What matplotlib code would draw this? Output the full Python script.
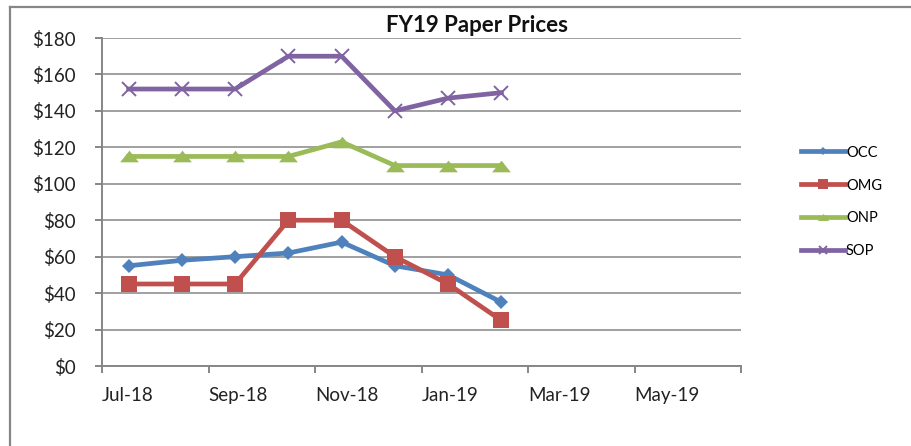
import numpy as np
import matplotlib
matplotlib.use('Agg')
import matplotlib.pyplot as plt
from matplotlib.lines import Line2D

plt.rcParams['font.family'] = ['Lato', 'DejaVu Sans']

# monthly axis Jul-18 .. Jun-19, each point sits in the middle of its month slot
axis_months = ['Jul-18', 'Aug-18', 'Sep-18', 'Oct-18', 'Nov-18', 'Dec-18',
               'Jan-19', 'Feb-19', 'Mar-19', 'Apr-19', 'May-19', 'Jun-19']
months = ['Jul-18', 'Aug-18', 'Sep-18', 'Oct-18', 'Nov-18', 'Dec-18', 'Jan-19', 'Feb-19']
occ = [55, 58, 60, 62, 68, 55, 50, 35]
omg = [45, 45, 45, 80, 80, 60, 45, 25]
onp = [115, 115, 115, 115, 123, 110, 110, 110]
sop = [152, 152, 152, 170, 170, 140, 147, 150]

names = ['OCC', 'OMG', 'ONP', 'SOP']
colors = ['#4F81BD', '#C0504D', '#9BBB59', '#8064A2']
tri = [(0, 0.62), (1, -0.62), (-1, -0.62)]
markers = ['D', 's', tri, 'x']
msizes = [7.5, 11, 13.5, 10]
grey = '#868686'

W, H = 911, 446
fig = plt.figure(figsize=(W / 100, H / 100), dpi=100)

# outer chart frame (cropped)
fig.add_artist(Line2D([10 / W, 10 / W], [0, 1 - 7 / H], color=grey, lw=1.6))
fig.add_artist(Line2D([10 / W, 1], [1 - 7 / H, 1 - 7 / H], color=grey, lw=1.6))

ax = fig.add_axes([102 / W, 80 / H, (741 - 102) / W, (366 - 38) / H])

x = np.array([axis_months.index(m) for m in months]) + 0.5
handles = []
for vals, name, c, m, ms in zip([occ, omg, onp, sop], names, colors, markers, msizes):
    mew = 1.4 if m == 'x' else 0
    ax.plot(x, vals, color=c, lw=3.4, marker=m, ms=ms, mew=mew, mec=c, zorder=3)
    handles.append(Line2D([], [], color=c, lw=3.4, marker=m, ms=ms * 0.6,
                          mew=mew, mec=c, label=name))

ax.set_ylim(0, 180)
ax.set_yticks(np.arange(0, 181, 20))
ax.set_yticklabels(['$%d' % v for v in range(0, 181, 20)])
ax.yaxis.grid(True, color=grey, lw=1.1)
ax.set_axisbelow(True)

ax.set_xlim(0, len(axis_months))
xt = np.arange(0, len(axis_months) + 1, 2)
ax.set_xticks(xt)
ax.set_xticklabels(axis_months[::2] + [''], ha='left')

for s in ['top', 'right']:
    ax.spines[s].set_visible(False)
for s in ['left', 'bottom']:
    ax.spines[s].set_color(grey)
    ax.spines[s].set_linewidth(1.4)
ax.tick_params(axis='both', colors=grey, width=1.4, length=5, labelcolor='#222222',
               labelsize=13.5)
ax.tick_params(axis='y', pad=14)
ax.tick_params(axis='x', pad=10)

fig.text(477 / W, 1 - 26 / H, 'FY19 Paper Prices', ha='center', va='center',
         fontsize=16, fontweight='bold', color='#111111')

fig.legend(handles=handles, loc='center left', bbox_to_anchor=(795 / W, 1 - 202 / H),
           frameon=False, fontsize=10.5, handlelength=3.0, handletextpad=0.1,
           labelspacing=1.3, borderaxespad=0)

fig.savefig('out.png', dpi=100)
